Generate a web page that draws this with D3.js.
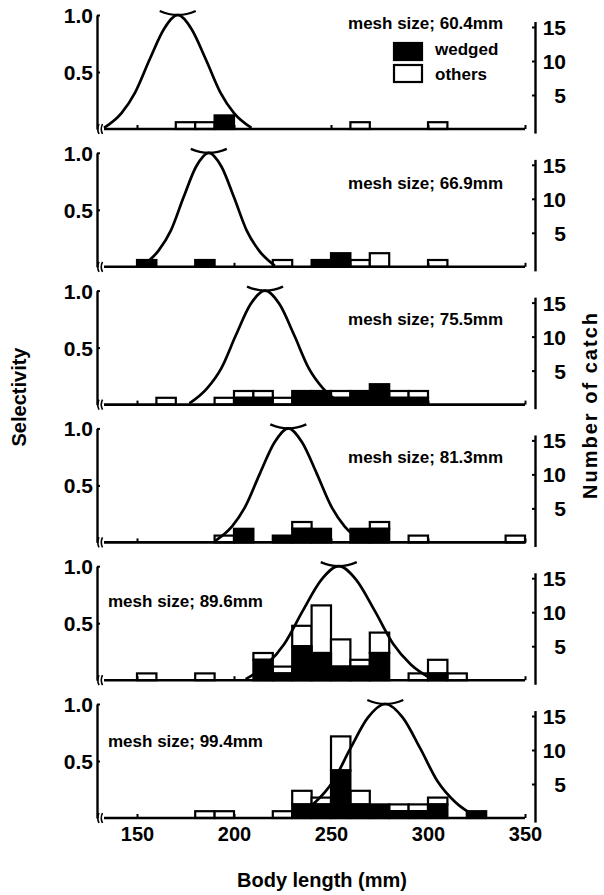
<!DOCTYPE html>
<html>
<head>
<meta charset="utf-8">
<script src="https://cdn.jsdelivr.net/npm/d3@7/dist/d3.min.js"></script>
<style>
	body { margin: 0; background: #fff; }
	text { font-family: "Liberation Sans", Arial, sans-serif; font-weight: bold; fill: #000; }
</style>
</head>
<body>
<svg id="chart" width="604" height="895"></svg>
<script>

/////////////////////////////////////////////////////////
/////////////////-----DATA-----//////////////////////////
/////////////////////////////////////////////////////////
let meshSizes = ["60.4", "66.9", "75.5", "81.3", "89.6", "99.4"];

// 10 mm length classes, lower edge
let binStarts = [140, 150, 160, 170, 180, 190, 200, 210, 220, 230, 240, 250, 260, 270, 280, 290, 300, 310, 320, 330, 340];

let wedgedCounts = [
	[0,0,0,0,0,2,0,0,0,0,0,0,0,0,0,0,0,0,0,0,0],
	[0,1,0,0,1,0,0,0,0,0,1,2,0,0,0,0,0,0,0,0,0],
	[0,0,0,0,0,0,1,1,0,2,2,1,2,3,1,1,0,0,0,0,0],
	[0,0,0,0,0,0,2,0,1,2,2,0,2,2,0,0,0,0,0,0,0],
	[0,0,0,0,0,0,0,3,1,5,4,2,2,4,0,0,1,0,0,0,0],
	[0,0,0,0,0,0,0,0,0,2,2,7,2,2,1,1,2,0,1,0,0]
];

let otherCounts = [
	[0,0,0,1,1,0,0,0,0,0,0,0,1,0,0,0,1,0,0,0,0],
	[0,0,0,0,0,0,0,0,1,0,0,0,1,2,0,0,1,0,0,0,0],
	[0,0,1,0,0,1,1,1,1,0,0,1,0,0,1,1,0,0,0,0,0],
	[0,0,0,0,0,1,0,0,0,1,0,0,0,1,0,1,0,0,0,0,1],
	[0,1,0,0,1,0,0,1,1,3,7,4,1,3,0,1,2,1,0,0,0],
	[0,0,0,0,1,1,0,0,1,2,1,5,2,0,1,1,1,0,0,0,0]
];

// selectivity curves, [body length, selectivity]
let selCurves = [
	[[133,0.01],[142,0.14],[149,0.32],[156.5,0.61],[164,0.88],[171,1],[178,0.88],[185.5,0.61],[193,0.32],[200,0.14],[209,0.01]],
	[[153,0.01],[161,0.14],[167.5,0.32],[174,0.61],[180.5,0.88],[187,1],[193.5,0.88],[200,0.61],[206.5,0.32],[213,0.14],[221,0.01]],
	[[177,0.01],[186,0.14],[193.5,0.32],[201,0.61],[208.5,0.88],[216,1],[223.5,0.88],[231,0.61],[238.5,0.32],[246,0.14],[255,0.01]],
	[[190,0.01],[199,0.14],[206,0.32],[213.5,0.61],[221,0.88],[228,1],[235,0.88],[242.5,0.61],[250,0.32],[257,0.14],[266,0.01]],
	[[206,0.01],[217,0.14],[226,0.32],[235.5,0.61],[245,0.88],[254,1],[263,0.88],[272.5,0.61],[282,0.32],[291,0.14],[302,0.01]],
	[[231,0.01],[242,0.14],[251,0.32],[260,0.61],[269,0.88],[278,1],[287,0.88],[296,0.61],[305,0.32],[314,0.14],[325,0.01]]
];

let selTicks = [0.5, 1.0];
let catchTicks = [5, 10, 15];
let lengthTicks = [150, 200, 250, 300, 350];
let legendLabels = ["wedged", "others"];


/////////////////////////////////////////////////////////
///////////////-----LAYOUT-----//////////////////////////
/////////////////////////////////////////////////////////
let layout = {
	firstBase: 129,
	step: 137.8,
	selHeight: 114,
	catchHeight: 102,
	leftX: 97,
	rightX: 535,
	// where the mesh label sits in each panel: [x, dy above base, anchor]
	labels: [
		[503, 100, "end"], [503, 78, "end"], [503, 80, "end"],
		[503, 79, "end"], [108, 73, "start"], [108, 71, "start"]
	]
};

let svg = d3.select("#chart");
let x = d3.scaleLinear().domain([150, 350]).range([137, 525]);
let binW = x(160) - x(150);

function drawPanel(i) {
	let base = layout.firstBase + layout.step * i;
	let g = svg.append("g");

	let sel = d3.scaleLinear().domain([0, 1]).range([base, base - layout.selHeight]);
	let cnt = d3.scaleLinear().domain([0, 15]).range([base, base - layout.catchHeight]);

	// stacked bars: wedged below, others on top
	let bins = binStarts.map(function(b, j) {
		return {start: b, w: wedgedCounts[i][j], o: otherCounts[i][j]};
	});

	g.selectAll("rect.oth").data(bins.filter(function(d) { return d.o > 0; }))
	.enter().append("rect")
	.attr("x", function(d) { return x(d.start); })
	.attr("width", binW)
	.attr("y", function(d) { return cnt(d.w + d.o); })
	.attr("height", function(d) { return cnt(d.w) - cnt(d.w + d.o); })
	.attr("fill", "#fff").attr("stroke", "#000").attr("stroke-width", 2.2);

	g.selectAll("rect.wed").data(bins.filter(function(d) { return d.w > 0; }))
	.enter().append("rect")
	.attr("x", function(d) { return x(d.start); })
	.attr("width", binW)
	.attr("y", function(d) { return cnt(d.w); })
	.attr("height", function(d) { return cnt(0) - cnt(d.w); })
	.attr("fill", "#000").attr("stroke", "#000").attr("stroke-width", 2.2);

	// selectivity curve
	let line = d3.line()
	.x(function(d) { return x(d[0]); })
	.y(function(d) { return sel(d[1]); })
	.curve(d3.curveMonotoneX);

	g.append("path").datum(selCurves[i])
	.attr("d", line)
	.attr("fill", "none").attr("stroke", "#000").attr("stroke-width", 2.7);

	let peak = selCurves[i].reduce(function(a, b) { return b[1] > a[1] ? b : a; });
	let px = x(peak[0]), py = sel(peak[1]);
	g.append("path")
	.attr("d", "M" + (px - 18) + "," + (py - 4) + " Q" + px + "," + (py + 4) + " " + (px + 18) + "," + (py - 4))
	.attr("fill", "none").attr("stroke", "#000").attr("stroke-width", 2.4);

	// x axis
	g.append("line")
	.attr("x1", 104).attr("x2", x(350))
	.attr("y1", base).attr("y2", base)
	.attr("stroke", "#000").attr("stroke-width", 2.6);

	let xAxis = d3.axisBottom(x).tickValues(lengthTicks).tickSize(-4).tickPadding(9);
	if (i < 5) xAxis.tickFormat("");
	let xa = g.append("g").attr("transform", "translate(0," + base + ")").call(xAxis);
	xa.select(".domain").remove();
	xa.selectAll("line").attr("stroke-width", 2);
	xa.selectAll("text").style("font-size", "20px");

	// axis break
	[99, 102.5].forEach(function(bx) {
		g.append("path")
		.attr("d", "M" + bx + "," + (base - 5) + " q-2.5,5 0,10")
		.attr("fill", "none").attr("stroke", "#000").attr("stroke-width", 1.6);
	});

	// left axis
	let ya = g.append("g").attr("transform", "translate(" + layout.leftX + ",0)")
	.call(d3.axisLeft(sel).tickValues(selTicks).tickSize(-3).tickSizeOuter(0).tickPadding(4).tickFormat(d3.format(".1f")));
	ya.select(".domain").attr("stroke-width", 2.4);
	ya.selectAll("line").attr("stroke-width", 2);
	ya.selectAll("text").style("font-size", "21px").attr("dy", "0.36em");

	// right axis
	let cntAxis = cnt.copy().domain([-0.6, 15.8]).range([cnt(-0.6), cnt(15.8)]);
	let ra = g.append("g").attr("transform", "translate(" + layout.rightX + ",0)")
	.call(d3.axisRight(cntAxis).tickValues(catchTicks).tickSize(-3).tickSizeOuter(0));
	ra.select(".domain").attr("stroke-width", 2.4);
	ra.selectAll("line").attr("stroke-width", 2);
	ra.selectAll("text").style("font-size", "21px").attr("text-anchor", "end").attr("x", 31).attr("dy", "0.36em");

	// mesh label
	let lab = layout.labels[i];
	g.append("text")
	.attr("x", lab[0]).attr("y", base - lab[1])
	.attr("text-anchor", lab[2])
	.style("font-size", "17px")
	.text("mesh size; " + meshSizes[i] + "mm");
}

for (let i = 0; i < meshSizes.length; i++) drawPanel(i);

// legend in the first panel
let leg = svg.append("g");
leg.selectAll("rect").data(legendLabels).enter().append("rect")
.attr("x", 394).attr("y", function(d, i) { return 43 + i * 22; })
.attr("width", 28).attr("height", 17)
.attr("fill", function(d, i) { return i == 0 ? "#000" : "#fff"; })
.attr("stroke", "#000").attr("stroke-width", 2.2);
leg.selectAll("text").data(legendLabels).enter().append("text")
.attr("x", 435).attr("y", function(d, i) { return 55 + i * 25; })
.style("font-size", "17px")
.text(function(d) { return d; });

// axis titles
svg.append("text").attr("x", 322).attr("y", 887).attr("text-anchor", "middle")
.style("font-size", "20px").text("Body length (mm)");
svg.append("text").attr("transform", "translate(26,397) rotate(-90)").attr("text-anchor", "middle")
.style("font-size", "20px").text("Selectivity");
svg.append("text").attr("transform", "translate(597,406) rotate(-90)").attr("text-anchor", "middle")
.attr("textLength", 186).attr("lengthAdjust", "spacing")
.style("font-size", "20px").text("Number of catch");

</script>
</body>
</html>
